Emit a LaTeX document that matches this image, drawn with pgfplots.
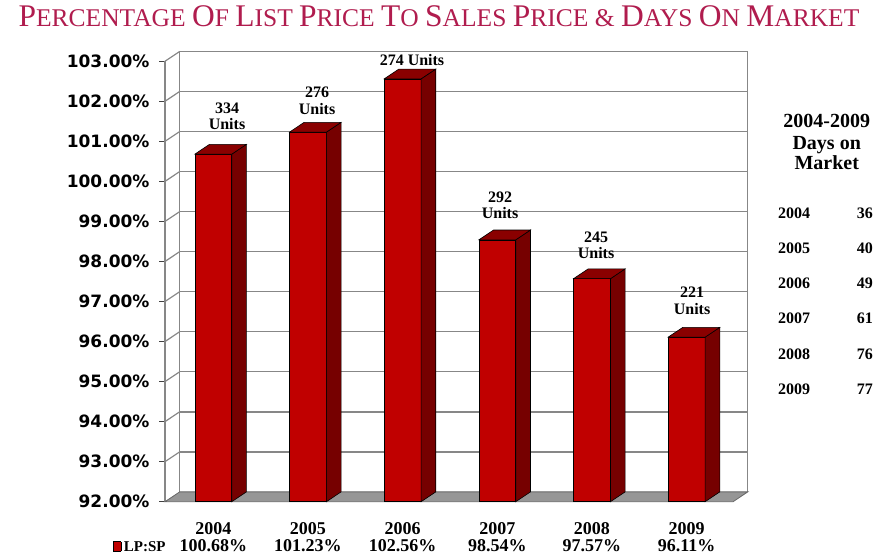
\documentclass[border=0pt]{standalone}
\usepackage{pgfplots}
\pgfplotsset{compat=1.18}
\usepackage{pgfplotstable}
\usepackage{fontspec}
\setmainfont{Liberation Serif}
\newfontfamily\tickfont{DejaVu Sans}
\definecolor{barfront}{RGB}{192,0,0}
\definecolor{barside}{RGB}{118,0,0}
\definecolor{bartop}{RGB}{138,0,0}
\definecolor{gridc}{RGB}{135,135,135}
\definecolor{floorc}{RGB}{150,150,150}
\definecolor{titlec}{RGB}{176,28,78}

\pgfplotstableread{
x year v
0 2004 100.68
1 2005 101.23
2 2006 102.56
3 2007 98.54
4 2008 97.57
5 2009 96.11
}\lpsp

\newcommand\SC[2]{{\fontsize{31.5}{31.5}\selectfont #1}{\fontsize{25.5}{25.5}\selectfont #2}}
\tikzset{
  lab/.style={font=\bfseries\fontsize{16}{16.5}\selectfont, align=center, inner sep=0, anchor=south},
  botlab/.style={font=\bfseries\fontsize{18}{18}\selectfont, inner sep=0, anchor=base},
}

\begin{document}
\begin{tikzpicture}
\path[use as bounding box] (0pt,0pt) rectangle (890pt,554pt);
\node[anchor=base, text=titlec, inner sep=0, font=\fontsize{25.5}{25.5}\selectfont] at (439pt,527pt)
 {\SC{P}{ERCENTAGE} \SC{O}{F} \SC{L}{IST} \SC{P}{RICE} \SC{T}{O} \SC{S}{ALES} \SC{P}{RICE} \& \SC{D}{AYS} \SC{O}{N} \SC{M}{ARKET}};
\begin{axis}[
  at={(165pt,52.3pt)}, anchor=south west,
  scale only axis, width=583.2pt, height=450.45pt,
  xmin=-0.5, xmax=5.66, ymin=92, ymax=103.25,
  clip=false,
  axis line style={draw=none},
  xtick=\empty,
  ytick={92,...,103}, ytick pos=left,
  tick align=outside, major tick length=6pt,
  tick style={black!75, line width=0.8pt},
  /pgf/number format/assume math mode=true,
  yticklabel={\pgfmathprintnumber[fixed,fixed zerofill,precision=2]{\tick}\%},
  yticklabel style={font=\tickfont\bfseries\fontsize{17}{17}\selectfont, xshift=-6pt},
]
% back wall grid and left wall
\pgfplotsforeachungrouped \g in {93,...,103}{%
  \pgfmathsetmacro\gy{\g+0.245}%
  \edef\temp{%
    \noexpand\addplot[gridc, line width=1.4pt] coordinates {(-0.345,\gy) (5.655,\gy)};
    \noexpand\addplot[gridc, line width=1.2pt] coordinates {(-0.5,\g) (-0.345,\gy)};
  }\temp
}
\addplot[gridc, line width=1.2pt] coordinates {(-0.5,92) (-0.5,103)};
\addplot[gridc, line width=1.2pt] coordinates {(-0.345,92.245) (-0.345,103.245)};
\addplot[gridc, line width=1.4pt] coordinates {(5.655,92.245) (5.655,103.245)};
% floor
\addplot[fill=floorc, draw=black!60, line width=0.8pt] coordinates {(-0.5,92) (5.5,92) (5.655,92.245) (-0.345,92.245)} -- cycle;
% bars
\pgfplotsforeachungrouped \i in {0,...,5}{%
  \pgfplotstablegetelem{\i}{v}\of\lpsp \let\v\pgfplotsretval
  \pgfplotstablegetelem{\i}{year}\of\lpsp \let\yr\pgfplotsretval
  \pgfmathsetmacro\L{\i-0.185}%
  \pgfmathsetmacro\R{\i+0.205}%
  \pgfmathsetmacro\Lb{\i-0.03}%
  \pgfmathsetmacro\Rb{\i+0.36}%
  \pgfmathsetmacro\cx{\i+0.01}%
  \pgfmathsetmacro\vt{\v+0.245}%
  \edef\temp{%
    \noexpand\addplot[draw=black, line width=0.6pt, fill=barfront] coordinates {(\L,92) (\R,92) (\R,\v) (\L,\v)} -- cycle;
    \noexpand\addplot[draw=black, line width=0.6pt, fill=barside] coordinates {(\R,92) (\Rb,92.245) (\Rb,\vt) (\R,\v)} -- cycle;
    \noexpand\addplot[draw=black, line width=0.6pt, fill=bartop] coordinates {(\L,\v) (\R,\v) (\Rb,\vt) (\Lb,\vt)} -- cycle;
    \noexpand\node[botlab, yshift=-32.3pt] at (axis cs:\cx,92) {\yr};
    \noexpand\node[botlab, yshift=-49.3pt] at (axis cs:\cx,92) {\v\noexpand\%};
  }\temp
}
\node[lab, yshift=14pt]  at (axis cs:0.155,100.925) {334\\Units};
\node[lab, yshift=7.5pt] at (axis cs:1.106,101.475) {276\\Units};
\node[lab, yshift=3pt]   at (axis cs:2.109,102.805) {274 Units};
\node[lab, yshift=11pt]  at (axis cs:3.039,98.785) {292\\Units};
\node[lab, yshift=10pt]  at (axis cs:4.053,97.815) {245\\Units};
\node[lab, yshift=12.5pt] at (axis cs:5.067,96.355) {221\\Units};
\end{axis}
% legend
\node[anchor=base west, inner sep=0, font=\bfseries\fontsize{15}{15}\selectfont] at (113pt,3pt)
 {{\fboxsep=0pt\fboxrule=0.6pt\fcolorbox{black}{barfront}{\rule{0pt}{9pt}\rule{7pt}{0pt}}}\,LP:SP};
% days on market table
\begin{scope}[every node/.style={inner sep=0, font=\bfseries\fontsize{20}{20}\selectfont}]
\node[anchor=base] at (826.7pt,426pt) {2004-2009};
\node[anchor=base] at (826.7pt,404pt) {Days on};
\node[anchor=base] at (826.7pt,384pt) {Market};
\end{scope}
\begin{scope}[every node/.style={inner sep=0, font=\bfseries\fontsize{16}{16}\selectfont}]
\node[anchor=base west] at (778pt,335.5pt) {2004}; \node[anchor=base east] at (873pt,335.5pt) {36};
\node[anchor=base west] at (778pt,300.5pt) {2005}; \node[anchor=base east] at (873pt,300.5pt) {40};
\node[anchor=base west] at (778pt,265.5pt) {2006}; \node[anchor=base east] at (873pt,265.5pt) {49};
\node[anchor=base west] at (778pt,230.5pt) {2007}; \node[anchor=base east] at (873pt,230.5pt) {61};
\node[anchor=base west] at (778pt,194.5pt) {2008}; \node[anchor=base east] at (873pt,194.5pt) {76};
\node[anchor=base west] at (778pt,159.5pt) {2009}; \node[anchor=base east] at (873pt,159.5pt) {77};
\end{scope}
\end{tikzpicture}
\end{document}
